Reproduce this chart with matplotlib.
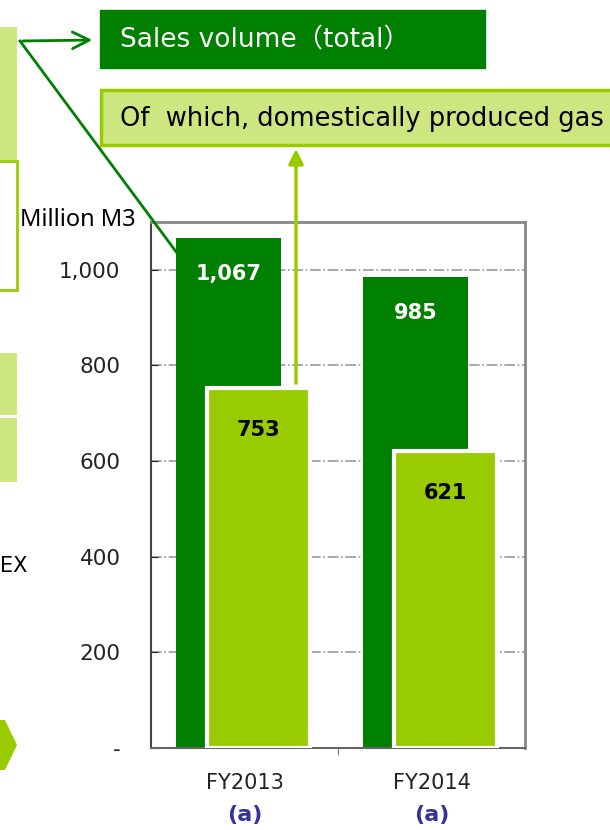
import numpy as np
import matplotlib.pyplot as plt
from matplotlib.patches import Rectangle, Polygon

# data
years = ['FY2013', 'FY2014']
notes = ['(a)', '(a)']
total = [1067, 985]
domestic = [753, 621]
total_lbl = ['1,067', '985']
domestic_lbl = ['753', '621']
yticks = [0, 200, 400, 600, 800, 1000]
ytick_lbl = ['-', '200', '400', '600', '800', '1,000']

dark = '#008000'
light = '#99cc00'
pale = '#cde67f'

W, H = 610, 830
fig = plt.figure(figsize=(W / 100, H / 100), dpi=100)

# main chart axes (pixel box 151..525 x 222..748)
ax = fig.add_axes([151 / W, 1 - 748 / H, 374 / W, 526 / H])
x = np.arange(len(years))
ax.bar(x - 0.086, total, width=0.56, color=dark, zorder=2)
ax.bar(x + 0.075, domestic, width=0.55, color=light, edgecolor='white', linewidth=3, zorder=3)

for i in range(len(years)):
    ax.annotate(total_lbl[i], (x[i] - 0.086, total[i]), xytext=(0, -26), textcoords='offset points',
                ha='center', va='center', color='white', fontsize=15, fontweight='bold', zorder=4)
    ax.annotate(domestic_lbl[i], (x[i] + 0.075, domestic[i]), xytext=(0, -30), textcoords='offset points',
                ha='center', va='center', color='black', fontsize=15, fontweight='bold', zorder=4)

ax.set_xlim(-0.5, 1.5)
ax.set_ylim(0, 1100)
ax.set_yticks(yticks)
ax.set_yticklabels(ytick_lbl, fontsize=15.5)
ax.tick_params(axis='y', direction='in', length=5, pad=22, colors='#222222')
ax.set_xticks(x)
ax.set_xticklabels([])
ax.tick_params(axis='x', length=0)
ax.set_xticks([0.5], minor=True)
ax.tick_params(axis='x', which='minor', direction='out', length=5, color='#555555')
ax.grid(axis='y', color='#999999', linestyle='-.', linewidth=1.2, zorder=1)
for s in ['top', 'right']:
    ax.spines[s].set_color('#888888')
    ax.spines[s].set_linewidth(2)
ax.spines['left'].set_color('#444444')
ax.spines['bottom'].set_color('#666666')
ax.spines['left'].set_linewidth(1.5)
ax.spines['bottom'].set_linewidth(1.5)

for i in range(len(years)):
    ax.annotate(years[i], (x[i], 0), xytext=(0, -25), textcoords='offset points',
                ha='center', va='center', fontsize=15, color='#222222', annotation_clip=False)
    ax.annotate(notes[i], (x[i], 0), xytext=(0, -48), textcoords='offset points',
                ha='center', va='center', fontsize=16, fontweight='bold', color='#333399',
                annotation_clip=False)

# overlay in pixel coordinates for the slide decorations
ov = fig.add_axes([0, 0, 1, 1], zorder=5)
ov.set_xlim(0, W)
ov.set_ylim(H, 0)
ov.axis('off')
ov.patch.set_alpha(0)

fig.text(20 / W, 1 - 220 / H, 'Million M3', fontsize=17, family='Noto Sans',
         va='center', ha='left')

# legend boxes
ov.add_patch(Rectangle((100, 10), 385, 58, facecolor=dark, edgecolor=dark))
ov.text(120, 40, 'Sales volume（total）', color='white', fontsize=19, va='center',
        family=['DejaVu Sans', 'Noto Sans CJK JP'])
ov.add_patch(Rectangle((101, 90), 520, 55, facecolor=pale, edgecolor=light, linewidth=2.5))
ov.text(120, 119, 'Of  which, domestically produced gas', color='black', fontsize=18.5,
        va='center')

# partial boxes on the left edge
ov.add_patch(Rectangle((-5, 27), 22, 133, facecolor=pale, edgecolor='none'))
ov.add_patch(Rectangle((-5, 161), 22, 129, facecolor='white', edgecolor=light, linewidth=2))
ov.add_patch(Rectangle((-5, 353), 22, 62, facecolor=pale, edgecolor='none'))
ov.add_patch(Rectangle((-5, 418), 22, 64, facecolor=pale, edgecolor='none'))
ov.text(0, 566, 'EX', fontsize=15, va='center', ha='left')
ov.add_patch(Polygon([(-5, 720), (5, 720), (17, 745), (5, 770), (-5, 770)], closed=True,
                     facecolor=light, edgecolor='none'))

# connector lines
ov.plot([20, 177], [41, 253], color=dark, lw=2)
ov.annotate('', xy=(95, 40), xytext=(20, 41),
            arrowprops=dict(arrowstyle='->', color=dark, lw=2, mutation_scale=30))
ov.annotate('', xy=(296, 146), xytext=(296, 386),
            arrowprops=dict(arrowstyle='-|>', color=light, lw=2.5, mutation_scale=22))

fig.savefig('out.png', dpi=100)
